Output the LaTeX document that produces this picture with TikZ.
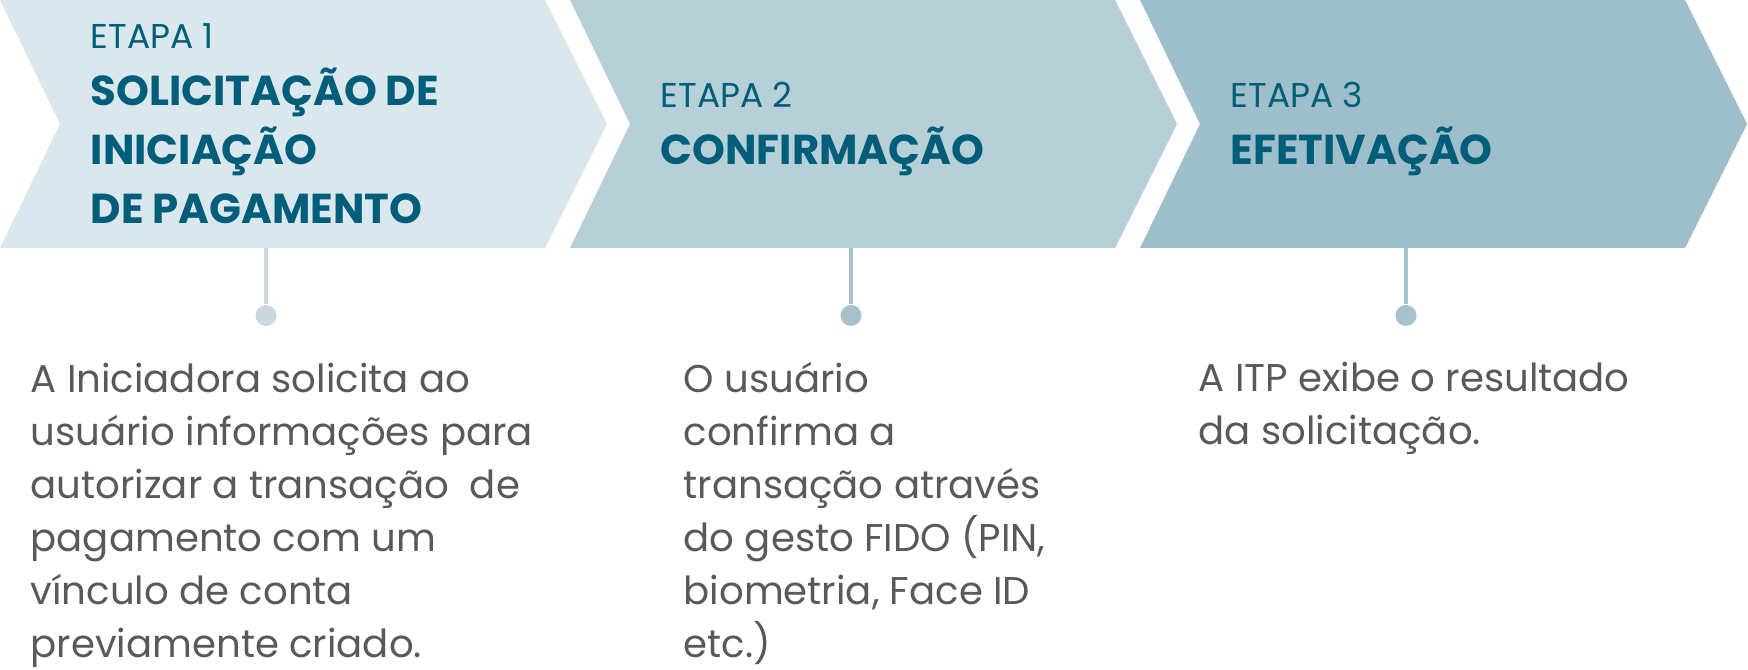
\documentclass[tikz,border=0pt]{standalone}
\usepackage{fontspec}
\setmainfont{Poppins}
\usetikzlibrary{positioning}
\definecolor{faixaum}{HTML}{DAE7EC}
\definecolor{faixadois}{HTML}{B7CFD7}
\definecolor{faixatres}{HTML}{9EBFCA}
\definecolor{azultitulo}{HTML}{005E7A}
\definecolor{cinzatexto}{HTML}{595959}
\definecolor{hasteum}{HTML}{CBD9DF}
\definecolor{hastedois}{HTML}{A7C2CC}
\begin{document}
\begin{tikzpicture}
            [etapa/.style = {anchor=base west, inner sep=0pt, text=azultitulo, font=\fontsize{9.8}{11}\selectfont},
             titulo/.style = {anchor=base west, inner sep=0pt, align=left, text=azultitulo, font=\fontsize{11.9}{16.8}\selectfont\bfseries},
             corpo/.style = {anchor=base west, inner sep=0pt, align=left, text=cinzatexto, font=\fontsize{11}{15.1}\selectfont},
             ponto/.style = {circle, fill, inner sep=0pt, minimum size=0.21cm},
             haste/.style = {line width=1pt}]
            \useasboundingbox (0,0) rectangle (17.48,-6.70);
            % faixas
            \fill[faixaum] (0,0) -- (5.45,0) -- (6.07,-1.24) -- (5.45,-2.48) -- (0,-2.48) -- (0.60,-1.24) -- cycle;
            \fill[faixadois] (5.70,0) -- (11.15,0) -- (11.77,-1.24) -- (11.15,-2.48) -- (5.70,-2.48) -- (6.30,-1.24) -- cycle;
            \fill[faixatres] (11.40,0) -- (16.85,0) -- (17.47,-1.24) -- (16.85,-2.48) -- (11.40,-2.48) -- (12.00,-1.24) -- cycle;
            % etapas (base = ultima linha)
            \node[etapa] (e1) at (0.90,-0.49) {ETAPA 1};
            \node[titulo] (t1) at (0.90,-2.24) {SOLICITAÇÃO DE\\INICIAÇÃO\\DE PAGAMENTO};
            \node[etapa] (e2) at (6.60,-1.08) {ETAPA 2};
            \node[titulo] (t2) at (6.60,-1.65) {CONFIRMAÇÃO};
            \node[etapa] (e3) at (12.30,-1.08) {ETAPA 3};
            \node[titulo] (t3) at (12.30,-1.65) {EFETIVAÇÃO};
            % hastes
            \coordinate (c1) at (2.66,-2.48);
            \coordinate (c2) at (8.51,-2.48);
            \coordinate (c3) at (14.06,-2.48);
            \node[ponto, hasteum] (d1) at (2.66,-3.155) {};
            \node[ponto, hastedois] (d2) at (8.51,-3.155) {};
            \node[ponto, hastedois] (d3) at (14.06,-3.155) {};
            \draw[haste, hasteum] (c1) -- (d1);
            \draw[haste, hastedois] (c2) -- (d2);
            \draw[haste, hastedois] (c3) -- (d3);
            % textos
            \node[corpo] (b1) at (0.30,-6.58) {A Iniciadora solicita ao\\usuário informações para\\autorizar a transação~~de\\pagamento com um\\vínculo de conta\\previamente criado.};
            \node[corpo] (b2) at (6.83,-6.58) {O usuário\\confirma a\\transação através\\do gesto FIDO (PIN,\\biometria, Face ID\\etc.)};
            \node[corpo] (b3) at (11.98,-4.45) {A ITP exibe o resultado\\da solicitação.};
        \end{tikzpicture}
\end{document}
